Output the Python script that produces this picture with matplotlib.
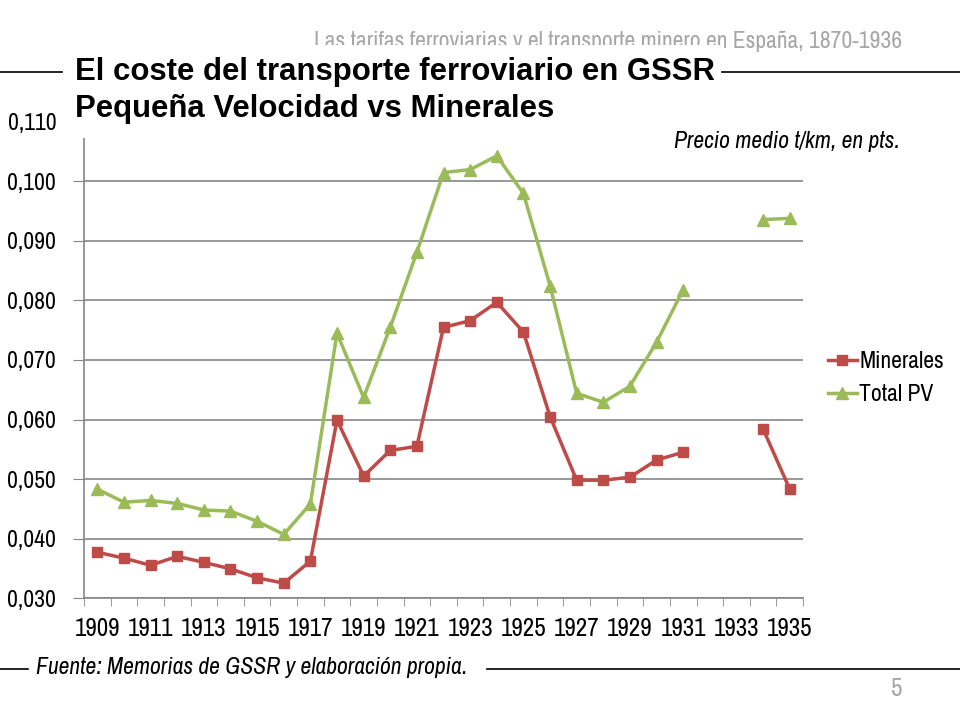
import numpy as np
import matplotlib
matplotlib.use('Agg')
from matplotlib import pyplot as plt
from matplotlib.patches import Rectangle
from matplotlib.ticker import FuncFormatter, MultipleLocator

plt.rcParams['font.family'] = ['Archivo Narrow', 'Liberation Sans', 'DejaVu Sans']
title_font = ['Liberation Sans', 'DejaVu Sans']

years = list(range(1909, 1936))
minerales = [0.0377, 0.0367, 0.0355, 0.0370, 0.0360, 0.0349, 0.0334, 0.0325, 0.0362,
             0.0599, 0.0505, 0.0548, 0.0555, 0.0755, 0.0766, 0.0797, 0.0747, 0.0605,
             0.0498, 0.0498, 0.0503, 0.0532, 0.0545, None, None, 0.0584, 0.0483]
total_pv = [0.0483, 0.0461, 0.0464, 0.0459, 0.0448, 0.0446, 0.0429, 0.0407, 0.0458,
            0.0745, 0.0637, 0.0755, 0.0881, 0.1015, 0.1020, 0.1043, 0.0980, 0.0825,
            0.0644, 0.0629, 0.0656, 0.0730, 0.0818, None, None, 0.0936, 0.0938]

min_arr = np.array([np.nan if v is None else v for v in minerales])
pv_arr = np.array([np.nan if v is None else v for v in total_pv])
x = np.arange(len(years))

def fx(px):
    return px / 960

def fy(py):
    return 1 - py / 720

fig = plt.figure(figsize=(9.6, 7.2), dpi=100)
ax = fig.add_axes([0.0875, 0.1694, 0.749, 0.6612])

ax.plot(x, min_arr, color='#BE4B48', lw=2.5, marker='s', ms=7.5, label='Minerales', zorder=3)
ax.plot(x, pv_arr, color='#9BBB59', lw=2.5, marker='^', ms=8, label='Total PV', zorder=3)

ax.set_xlim(-0.5, len(years) - 0.5)
ax.set_ylim(0.030, 0.110)
ax.yaxis.set_major_locator(MultipleLocator(0.010))
ax.yaxis.set_major_formatter(FuncFormatter(lambda v, p: ('%.3f' % v).replace('.', ',')))
ax.grid(axis='y', color='#868686', lw=1.2)
ax.set_axisbelow(True)

ax.set_xticks(x[::2])
ax.set_xticklabels([str(y) for y in years[::2]])
ax.set_xticks(np.arange(-0.5, len(years), 1), minor=True)
ax.tick_params(axis='x', which='major', length=0, pad=14, labelsize=18)
ax.tick_params(axis='x', which='minor', length=6, color='#868686', direction='out')
ax.tick_params(axis='y', length=8, color='#868686', labelsize=17, pad=12)

for s in ['top', 'right']:
    ax.spines[s].set_visible(False)
for s in ['left', 'bottom']:
    ax.spines[s].set_color('#868686')
    ax.spines[s].set_linewidth(1.2)

leg = ax.legend(loc='center left', bbox_to_anchor=(1.021, 0.462), frameon=False,
                fontsize=17, handlelength=1.25, handletextpad=0.1, labelspacing=0.5,
                borderaxespad=0)

# header (partly hidden behind the title box, as in the slide)
fig.text(fx(902), fy(41), 'Las tarifas ferroviarias y el transporte minero en España, 1870-1936',
         ha='right', va='center', fontsize=17, color='#A6A6A6')

# white boxes behind title and note
fig.add_artist(Rectangle((fx(66), fy(138)), fx(720 - 66), (138 - 45) / 720,
                         transform=fig.transFigure, facecolor='white', edgecolor='none', zorder=5))
fig.add_artist(Rectangle((fx(664), fy(160)), fx(906 - 664), (160 - 118) / 720,
                         transform=fig.transFigure, facecolor='white', edgecolor='none', zorder=5))

fig.text(fx(75), fy(80), 'El coste del transporte ferroviario en GSSR',
         ha='left', va='baseline', fontsize=22.4, fontweight='bold', color='black',
         family=title_font, zorder=6)
fig.text(fx(75), fy(117), 'Pequeña Velocidad vs Minerales',
         ha='left', va='baseline', fontsize=22.4, fontweight='bold', color='black',
         family=title_font, zorder=6)

fig.add_artist(plt.Line2D([0, fx(62)], [fy(72), fy(72)], color='black', lw=1.2))
fig.add_artist(plt.Line2D([fx(722), 1], [fy(72), fy(72)], color='black', lw=1.2))

fig.text(fx(900), fy(142), 'Precio medio t/km, en pts.', ha='right', va='center',
         fontsize=17, style='italic', zorder=6)

fig.text(fx(36), fy(667), 'Fuente: Memorias de GSSR y elaboración propia.', ha='left', va='center',
         fontsize=17, style='italic')
fig.add_artist(plt.Line2D([0, fx(28)], [fy(669), fy(669)], color='black', lw=1.2))
fig.add_artist(plt.Line2D([fx(487), 1], [fy(669), fy(669)], color='black', lw=1.2))

fig.text(fx(897), fy(688), '5', ha='center', va='center', fontsize=18, color='#A6A6A6')

fig.savefig('out.png', dpi=100)
